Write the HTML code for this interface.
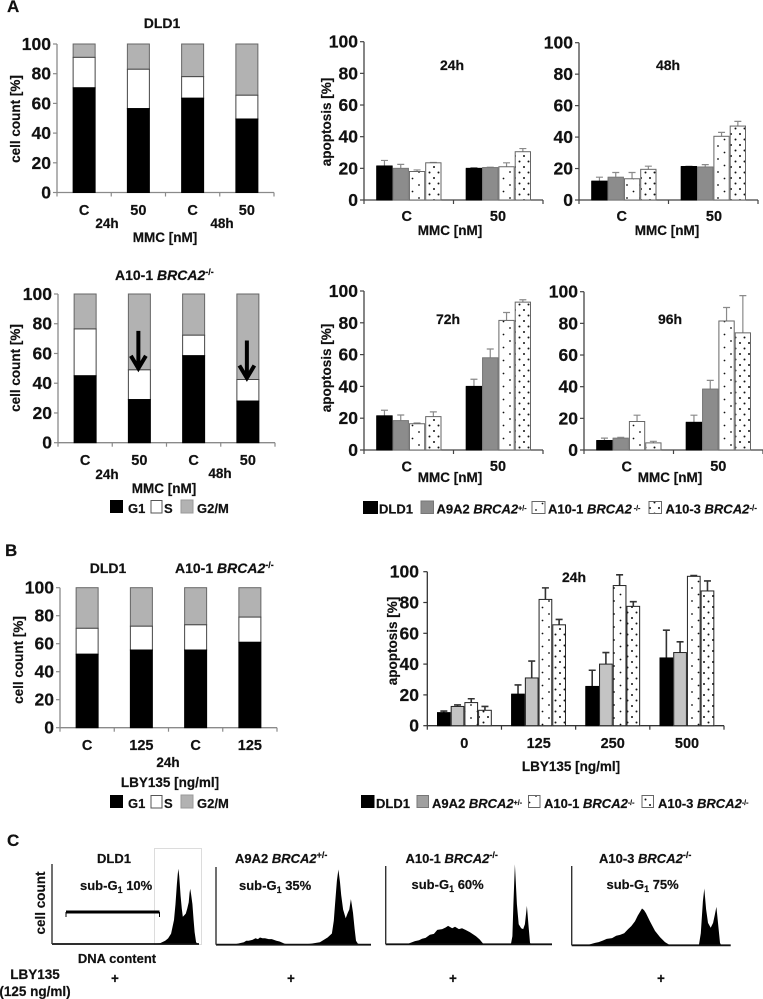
<!DOCTYPE html>
<html lang="en">
<head>
<meta charset="utf-8">
<title>Cell cycle and apoptosis figure</title>
<style>
html,body{margin:0;padding:0;background:#fff;}
svg{display:block;filter:blur(0.3px);}
text{font-family:"Liberation Sans",Arial,sans-serif;font-weight:bold;fill:#111;stroke:#111;stroke-width:0.2px;}
.tick{font-size:17.5px;text-anchor:end;}
.cat{font-size:14.5px;text-anchor:middle;}
.lab{font-size:13.5px;text-anchor:middle;}
.ttl{font-size:14px;}
.ttlc{font-size:13px;}
.leg{font-size:13px;}
.panel{font-size:17px;}
.mid{text-anchor:middle;}
</style>
</head>
<body>
<svg id="figure" width="763" height="999" viewBox="0 0 763 999" xmlns="http://www.w3.org/2000/svg">
<defs>
<pattern id="dots-sparse" width="13" height="13" patternUnits="userSpaceOnUse"><circle cx="3" cy="3" r="0.9" fill="#111"/><circle cx="9.5" cy="9.5" r="0.9" fill="#111"/></pattern>
<pattern id="dots-dense" width="9" height="11" patternUnits="userSpaceOnUse"><circle cx="2" cy="2" r="1" fill="#111"/><circle cx="6.5" cy="7.5" r="1" fill="#111"/></pattern>
</defs>
<rect width="763" height="999" fill="#fff"/>

<text class="panel" x="7" y="12">A</text>
<text class="panel" x="5" y="556">B</text>
<text class="panel" x="7" y="846">C</text>

<g id="chart-a1">
<text class="ttl mid" x="162" y="28">DLD1</text>
<text class="lab" transform="translate(20 119) rotate(-90)">cell count [%]</text>
<text class="lab" x="107" y="228">24h</text>
<text class="lab" x="222" y="228">48h</text>
<text class="lab" x="165" y="242">MMC [nM]</text>
</g>

<g id="chart-a2">
<text class="ttl" x="115" y="280" font-size="14.5">A10-1 <tspan font-style="italic">BRCA2</tspan><tspan font-size="9" dy="-5">-/-</tspan></text>
<text class="lab" transform="translate(20 368) rotate(-90)">cell count [%]</text>
<text class="lab" x="107" y="479">24h</text>
<text class="lab" x="220" y="478">48h</text>
<text class="lab" x="164" y="493">MMC [nM]</text>
</g>

<g>
<rect x="110" y="500" width="13" height="13" fill="#000"/>
<text class="leg" x="128" y="513">G1</text>
<rect x="151" y="500.5" width="11" height="12.5" fill="#fff" stroke="#555"/>
<text class="leg" x="164" y="513">S</text>
<rect x="181" y="500" width="12" height="13" fill="#b2b2b2" stroke="#999"/>
<text class="leg" x="197" y="513">G2/M</text>
</g>

<g id="chart-apo24">
<text class="ttl mid" x="452" y="70">24h</text>
<text class="lab" transform="translate(331 122) rotate(-90)">apoptosis [%]</text>
<text class="lab" x="450" y="235">MMC [nM]</text>
</g>
<g id="chart-apo48">
<text class="ttl mid" x="668" y="70">48h</text>
<text class="lab" x="667" y="235">MMC [nM]</text>
</g>
<g id="chart-apo72">
<text class="ttl mid" x="448" y="324">72h</text>
<text class="lab" transform="translate(331 368) rotate(-90)">apoptosis [%]</text>
<text class="lab" x="450" y="482">MMC [nM]</text>
</g>
<g id="chart-apo96">
<text class="ttl mid" x="670" y="324">96h</text>
<text class="lab" x="670" y="482">MMC [nM]</text>
</g>

<g>
<rect x="363" y="501" width="15" height="13" fill="#000"/>
<text class="leg" x="379" y="513.5">DLD1</text>
<rect x="421" y="501" width="12.5" height="12.5" fill="#8c8c8c" stroke="#777"/>
<text class="leg" x="436.5" y="513.5">A9A2 <tspan font-style="italic">BRCA2</tspan><tspan font-size="7" dy="-3">+/-</tspan></text>
<rect x="532" y="501.5" width="13" height="12" fill="url(#dots-sparse)" stroke="#666"/>
<text class="leg" x="548" y="513.5">A10-1 <tspan font-style="italic">BRCA2</tspan><tspan font-size="7" dy="-3"> -/-</tspan></text>
<rect x="649" y="501.5" width="12.5" height="12" fill="url(#dots-dense)" stroke="#666"/>
<text class="leg" x="665.5" y="513.5">A10-3 <tspan font-style="italic">BRCA2</tspan><tspan font-size="8" dy="-3">-/-</tspan></text>
</g>

<g id="chart-b1">
<text class="ttl mid" x="108" y="573">DLD1</text>
<text class="ttl" x="175" y="573">A10-1 <tspan font-style="italic">BRCA2</tspan><tspan font-size="9" dy="-5">-/-</tspan></text>
<text class="lab" transform="translate(23 660) rotate(-90)">cell count [%]</text>
<text class="lab" x="168" y="767">24h</text>
<text class="lab" x="170" y="787">LBY135 [ng/ml]</text>
</g>

<g>
<rect x="110" y="795" width="13" height="13" fill="#000"/>
<text class="leg" x="128" y="808">G1</text>
<rect x="151" y="795.5" width="11" height="12.5" fill="#fff" stroke="#555"/>
<text class="leg" x="164" y="808">S</text>
<rect x="181" y="795" width="12" height="13" fill="#b2b2b2" stroke="#999"/>
<text class="leg" x="197" y="808">G2/M</text>
</g>

<g id="chart-b2">
<text class="ttl mid" x="574" y="582">24h</text>
<text class="lab" x="571" y="771">LBY135 [ng/ml]</text>
</g>

<g>
<rect x="361" y="795" width="13.5" height="13" fill="#000"/>
<text class="leg" x="376" y="808">DLD1</text>
<rect x="417" y="795.5" width="11.5" height="12" fill="#a0a0a0" stroke="#777"/>
<text class="leg" x="432" y="808">A9A2 <tspan font-style="italic">BRCA2</tspan><tspan font-size="7" dy="-3">+/-</tspan></text>
<rect x="528.5" y="795.5" width="11.5" height="12" fill="url(#dots-sparse)" stroke="#666"/>
<text class="leg" x="544" y="808">A10-1 <tspan font-style="italic">BRCA2</tspan><tspan font-size="7" dy="-3">-/-</tspan></text>
<rect x="642" y="795.5" width="11.5" height="12" fill="url(#dots-dense)" stroke="#666"/>
<text class="leg" x="658" y="808">A10-3 <tspan font-style="italic">BRCA2</tspan><tspan font-size="7" dy="-3">-/-</tspan></text>
</g>

<g id="hist-dld1">
<rect x="154.5" y="848.5" width="47" height="96" fill="none" stroke="#dcdcdc"/>
<text class="ttlc mid" x="114" y="863">DLD1</text>
<text class="ttlc" x="80" y="890">sub-G<tspan font-size="9" dy="3">1</tspan><tspan dy="-3"> 10%</tspan></text>
<text class="lab" transform="translate(45 903) rotate(-90)">cell count</text>
<path d="M66 917V912.5H159.5V917" fill="none" stroke="#000" stroke-width="1"/>
<rect x="66" y="910.5" width="93.5" height="3" fill="#000"/>
<text class="ttlc mid" x="117" y="963">DNA content</text>
</g>
<g id="hist-a9a2">
<text class="ttlc" x="235" y="863">A9A2 <tspan font-style="italic">BRCA2</tspan><tspan font-size="9" dy="-5">+/-</tspan></text>
<text class="ttlc" x="239" y="890">sub-G<tspan font-size="9" dy="3">1</tspan><tspan dy="-3"> 35%</tspan></text>
</g>
<g id="hist-a101">
<text class="ttlc" x="405.5" y="863">A10-1 <tspan font-style="italic">BRCA2</tspan><tspan font-size="9" dy="-5">-/-</tspan></text>
<text class="ttlc" x="411.5" y="889">sub-G<tspan font-size="9" dy="3">1</tspan><tspan dy="-3"> 60%</tspan></text>
</g>
<g id="hist-a103">
<text class="ttlc" x="599" y="863">A10-3 <tspan font-style="italic">BRCA2</tspan><tspan font-size="9" dy="-5">-/-</tspan></text>
<text class="ttlc" x="606.5" y="889">sub-G<tspan font-size="9" dy="3">1</tspan><tspan dy="-3"> 75%</tspan></text>
</g>

<text class="lab" x="35" y="979">LBY135</text>
<text class="lab" x="35" y="996">(125 ng/ml)</text>
<text class="lab" x="115" y="983">+</text>
<text class="lab" x="291" y="983">+</text>
<text class="lab" x="453" y="983">+</text>
<text class="lab" x="661" y="983">+</text>
</svg>

<script>
// ---------- shared tick labels ----------
const percentTicks = [0, 20, 40, 60, 80, 100];

// ---------- stacked cell-cycle charts ----------
const mmcCategories = ['C', '50', 'C', '50'];
const a1G1 = [70.5, 56.5, 63.5, 49.5];
const a1S = [20.5, 26.5, 14.5, 16];
const a1G2M = [9, 17, 22, 34.5];

const a2G1 = [45, 29, 58.5, 28];
const a2S = [31.5, 20, 13.8, 14.5];
const a2G2M = [23.5, 51, 27.7, 57.5];

const lbyStackCategories = ['C', '125', 'C', '125'];
const b1G1 = [52.5, 55.5, 55.5, 61];
const b1S = [18.5, 17, 18, 18];
const b1G2M = [29, 27.5, 26.5, 21];

// ---------- apoptosis charts: rows are genotypes, columns are dose groups ----------
const mmcGroups = ['C', '50'];
const apo24Dld1 = [21.5, 20];
const apo24A9a2 = [20, 20.5];
const apo24A101 = [18, 21];
const apo24A103 = [23.5, 30.5];
const apo24Err = [[3.5, 0.5], [2.5, 0.2], [1, 2.5], [0.2, 2]];

const apo48Dld1 = [12, 21.3];
const apo48A9a2 = [14.5, 21];
const apo48A101 = [13.5, 40.5];
const apo48A103 = [19.5, 47];
const apo48Err = [[2.5, 0.2], [3, 1.5], [4, 2.5], [2, 3]];

const apo72Dld1 = [21.5, 40];
const apo72A9a2 = [18.5, 58];
const apo72A101 = [16.5, 81.5];
const apo72A103 = [21, 93];
const apo72Err = [[3.5, 4.5], [3.5, 5.5], [0.5, 5], [3, 1.5]];

const apo96Dld1 = [6, 17.5];
const apo96A9a2 = [7.5, 38.5];
const apo96A101 = [18, 81.5];
const apo96A103 = [4.5, 74];
const apo96Err = [[1.5, 4.5], [0.5, 5.5], [4, 8.5], [1, 23.5]];

const lbyGroups = ['0', '125', '250', '500'];
const lbyDld1 = [8.5, 20.5, 25.5, 44];
const lbyA9a2 = [12.5, 31, 40, 47.5];
const lbyA101 = [15, 82, 91, 97];
const lbyA103 = [10, 65.5, 77.5, 87.5];
const lbyErr = [[1, 6, 10.5, 18], [1, 11, 7.5, 7], [2.5, 7.5, 7, 0.5], [2.5, 3.5, 3, 6.5]];

// ---------- DNA histograms: channel (0-100 along the axis) and relative count ----------
const dld1Channels = [66.7, 73.5, 77, 79, 81, 83, 84, 85, 85.6, 86, 86.5, 87.5, 88.3, 89, 90, 91, 92, 93, 93.6, 94, 94.6, 95.5, 96.3, 97, 98, 99.6];
const dld1Counts = [0, 1, 4, 7, 13, 30, 50, 75, 88, 94, 85, 60, 44, 34, 36, 38, 44, 52, 64, 69, 62, 50, 30, 15, 2, 0];

const a9a2Channels = [11, 15.5, 18, 19.5, 21, 23.5, 25.5, 27, 28.4, 30, 31.6, 34, 36, 39, 41, 44.5, 51, 60.6, 67, 72, 74.8, 76, 76.8, 78, 79, 80, 80.8, 82, 83.7, 85, 86, 87, 87.6, 88.4, 89.4, 90.3, 91.6, 100];
const a9a2Counts = [0, 2, 3, 5, 5, 6, 8, 7, 9, 8, 8, 7, 7, 5, 4, 1, 0, 1, 3, 9, 14, 30, 50, 80, 94, 78, 62, 44, 33, 40, 44, 57, 50, 40, 20, 5, 1, 0];

const a101Channels = [12.6, 17.6, 20, 21.8, 24, 26.6, 29, 31, 34, 36, 37.5, 40, 41.7, 44, 45.9, 48, 50.7, 54.3, 56.5, 58.5, 61.5, 75.3, 76.2, 76.8, 77.7, 78.9, 80, 81.5, 82.7, 83.7, 84.9, 85.8, 86.8, 87.4, 100];
const a101Counts = [0, 4, 5, 7, 8, 12, 13, 18, 19, 21, 23, 20, 22, 19, 20, 18, 15, 10, 6, 1, 0, 0, 10, 50, 100, 50, 25, 20, 19, 25, 48, 25, 2, 0, 0];

const a103Channels = [9.4, 14.7, 17, 19.7, 22, 25.4, 28, 30.4, 33, 35.4, 37.5, 39.8, 41.5, 43, 44.2, 45.5, 46.7, 49.2, 52.4, 55.6, 58.7, 61.9, 80, 81.2, 82.5, 83.4, 84.5, 85.7, 87.4, 88.9, 90, 91, 92, 93.3, 94, 100];
const a103Counts = [0, 3, 4, 6, 8, 9, 12, 13, 15, 20, 24, 30, 37, 42, 46, 44, 40, 30, 18, 10, 4, 0, 0, 15, 55, 71, 45, 28, 22, 28, 38, 48, 28, 3, 0, 0];

// ---------- helpers ----------
const NS = 'http://www.w3.org/2000/svg';
function make(parent, tag, attrs, name) {
  const el = document.createElementNS(NS, tag);
  for (const k in attrs) el.setAttribute(k, attrs[k]);
  
  
  parent.appendChild(el);
  return el;
}
function label(parent, str, x, y, cls, name) {
  const el = make(parent, 'text', {x: x, y: y, class: cls}, name);
  el.textContent = str;
  return el;
}
function linearY(y0, y100) {
  return v => y0 - (v / 100) * (y0 - y100);
}
function drawAxes(g, cfg, y, nCats, axisColor) {
  const stepX = (cfg.xEnd - cfg.x0) / nCats;
  make(g, 'line', {x1: cfg.x0, y1: y(100), x2: cfg.x0, y2: y(0), stroke: axisColor, 'stroke-width': 1.3}, 'y-axis-line');
  make(g, 'line', {x1: cfg.x0, y1: y(0), x2: cfg.xEnd, y2: y(0), stroke: axisColor, 'stroke-width': 1.3}, 'x-axis-line');
  percentTicks.forEach(t => {
    make(g, 'line', {x1: cfg.x0 - 4, y1: y(t), x2: cfg.x0, y2: y(t), stroke: axisColor, 'stroke-width': 1.2}, 'y-tick');
    label(g, String(t), cfg.x0 - 6, y(t) + 6, 'tick', 'y-tick-label');
  });
  for (let i = 0; i <= nCats; i++) {
    const tx = cfg.x0 + i * stepX;
    make(g, 'line', {x1: tx, y1: y(0), x2: tx, y2: y(0) + 4, stroke: axisColor, 'stroke-width': 1.2}, 'x-tick');
  }
  return stepX;
}

// ---------- stacked chart ----------
function stackedChart(id, cfg, cats, g1, s, g2m) {
  const g = document.getElementById(id);
  const y = linearY(cfg.y0, cfg.y100);
  const step = drawAxes(g, cfg, y, cats.length, '#8a8a8a');
  const barW = 22;
  cats.forEach((c, i) => {
    const cx = cfg.x0 + step * (i + 0.5);
    const left = cx - barW / 2;
    const top1 = g1[i], top2 = g1[i] + s[i], top3 = top2 + g2m[i];
    make(g, 'rect', {x: left, y: y(top3), width: barW, height: y(top2) - y(top3), fill: '#b2b2b2', stroke: '#666', 'stroke-width': 1}, 'bar-g2m');
    make(g, 'rect', {x: left, y: y(top2), width: barW, height: y(top1) - y(top2), fill: '#fff', stroke: '#444', 'stroke-width': 1}, 'bar-s');
    make(g, 'rect', {x: left, y: y(top1), width: barW, height: y(0) - y(top1), fill: '#000', stroke: '#000', 'stroke-width': 1}, 'bar-g1');
    label(g, c, cx, cfg.catY, 'cat', 'x-category-label');
  });
}
stackedChart('chart-a1', {x0: 57, xEnd: 274, y0: 192.5, y100: 44, catY: 215}, mmcCategories, a1G1, a1S, a1G2M);
stackedChart('chart-a2', {x0: 58, xEnd: 275, y0: 442.7, y100: 294, catY: 465}, mmcCategories, a2G1, a2S, a2G2M);
stackedChart('chart-b1', {x0: 60, xEnd: 277, y0: 727.7, y100: 587.7, catY: 750}, lbyStackCategories, b1G1, b1S, b1G2M);

// arrows over the A10-1 stacked chart, pointing at the S / G2M boundary
const a2Group = document.getElementById('chart-a2');
const a2Y = linearY(442.7, 294);
[1, 3].forEach(i => {
  const cx = 58 + (217 / 4) * (i + 0.5) - 1;
  const boundary = a2G1[i] + a2S[i];
  const tipY = a2Y(boundary);
  make(a2Group, 'path', {d: 'M' + cx + ' ' + (tipY - 39) + 'V' + (tipY - 3) + 'M' + (cx - 7.5) + ' ' + (tipY - 14) + 'L' + cx + ' ' + (tipY - 1.5) + 'L' + (cx + 7.5) + ' ' + (tipY - 14), fill: 'none', stroke: '#000', 'stroke-width': 4}, 'arrow');
});

// ---------- grouped apoptosis chart ----------
function groupedChart(id, cfg, groups, seriesList, errs) {
  const g = document.getElementById(id);
  const y = linearY(cfg.y0, cfg.y100);
  const step = drawAxes(g, cfg, y, groups.length, cfg.axis);
  const names = ['dld1', 'a9a2', 'a10-1', 'a10-3'];
  const fills = ['#000', cfg.grey, 'url(#dots-sparse)', 'url(#dots-dense)'];
  const strokes = ['#000', cfg.greyEdge, cfg.dotEdge, cfg.dotEdge];
  groups.forEach((lab, gi) => {
    const start = cfg.x0 + step * gi + cfg.pad;
    seriesList.forEach((vals, si) => {
      const bx = start + si * cfg.barW;
      const v = vals[gi];
      const e = errs[si][gi];
      const mx = bx + cfg.barW / 2;
      make(g, 'path', {d: 'M' + mx + ' ' + y(v) + 'V' + y(v + e) + 'M' + (mx - 3.5) + ' ' + y(v + e) + 'H' + (mx + 3.5), fill: 'none', stroke: cfg.errColor, 'stroke-width': cfg.errW}, 'error-bar');
      make(g, 'rect', {x: bx, y: y(v), width: cfg.barW, height: y(0) - y(v), fill: si > 1 ? '#fff' : fills[si]}, 'bar-background-' + names[si]);
      make(g, 'rect', {x: bx + 0.5, y: y(v), width: cfg.barW - 1, height: y(0) - y(v), fill: fills[si], stroke: strokes[si], 'stroke-width': 1}, 'bar-' + names[si]);
    });
    const labX = cfg.labX ? cfg.labX[gi] : start + cfg.barW * 2;
    const labY = cfg.labYs ? cfg.labYs[gi] : cfg.labY;
    label(g, lab, labX, labY, 'cat', 'x-category-label');
  });
}
const grpA = {axis: '#444', grey: '#8c8c8c', greyEdge: '#777', dotEdge: '#666', errColor: '#8a8a8a', errW: 1.2, barW: 16.3, pad: 12.3};
groupedChart('chart-apo24', Object.assign({}, grpA, {x0: 364, xEnd: 543, y0: 200, y100: 41.7, labY: 221, labX: [406.7, 498]}), mmcGroups, [apo24Dld1, apo24A9a2, apo24A101, apo24A103], apo24Err);
groupedChart('chart-apo48', Object.assign({}, grpA, {x0: 579, xEnd: 758, y0: 200, y100: 42.7, labY: 221, labX: [621.7, 714]}), mmcGroups, [apo48Dld1, apo48A9a2, apo48A101, apo48A103], apo48Err);
groupedChart('chart-apo72', Object.assign({}, grpA, {x0: 364, xEnd: 543, y0: 450, y100: 291, labYs: [471.7, 471], labX: [406.7, 498]}), mmcGroups, [apo72Dld1, apo72A9a2, apo72A101, apo72A103], apo72Err);
groupedChart('chart-apo96', Object.assign({}, grpA, {x0: 584, xEnd: 763, y0: 450, y100: 291.7, labYs: [471.7, 471], labX: [626.7, 718.3]}), mmcGroups, [apo96Dld1, apo96A9a2, apo96A101, apo96A103], apo96Err);
groupedChart('chart-b2', {axis: '#333', grey: '#c4c4c4', greyEdge: '#222', dotEdge: '#222', errColor: '#333', errW: 1.6, barW: 13.7, pad: 9.7, x0: 427.3, xEnd: 724, y0: 725.7, y100: 571.7, labY: 748, labX: [464.3, 538.7, 612.7, 687]}, lbyGroups, [lbyDld1, lbyA9a2, lbyA101, lbyA103], lbyErr);
label(document.getElementById('chart-b2'), 'apoptosis [%]', 0, 0, 'lab', 'y-axis-title').setAttribute('transform', 'translate(397 641) rotate(-90)');
document.querySelectorAll('#chart-b2 .tick').forEach(t => { t.setAttribute('x', 419); });

// ---------- DNA histograms ----------
function histogram(id, cfg, channels, counts) {
  const g = document.getElementById(id);
  const xs = ch => cfg.x0 + (ch / 100) * cfg.w;
  const ys = c => cfg.base - c * 0.8;
  let d = 'M' + xs(channels[0]) + ' ' + cfg.base;
  channels.forEach((ch, i) => { d += 'L' + xs(ch).toFixed(1) + ' ' + ys(counts[i]).toFixed(1); });
  d += 'L' + xs(channels[channels.length - 1]) + ' ' + cfg.base + 'Z';
  make(g, 'path', {d: d, fill: '#000'}, 'histogram-area');
  make(g, 'line', {x1: cfg.x0, y1: cfg.base, x2: cfg.x0 + cfg.w, y2: cfg.base, stroke: '#111', 'stroke-width': 1.8}, 'x-axis-line');
  make(g, 'line', {x1: cfg.x0, y1: cfg.base, x2: cfg.x0, y2: cfg.top, stroke: '#333', 'stroke-width': 1.4}, 'y-axis-line');
}
histogram('hist-dld1', {x0: 52, w: 147, base: 944, top: 864}, dld1Channels, dld1Counts);
histogram('hist-a9a2', {x0: 216, w: 155, base: 944.7, top: 867}, a9a2Channels, a9a2Counts);
histogram('hist-a101', {x0: 385.7, w: 166.3, base: 944.3, top: 866}, a101Channels, a101Counts);
histogram('hist-a103', {x0: 571.7, w: 159, base: 945.3, top: 866}, a103Channels, a103Counts);
</script>
</body>
</html>
